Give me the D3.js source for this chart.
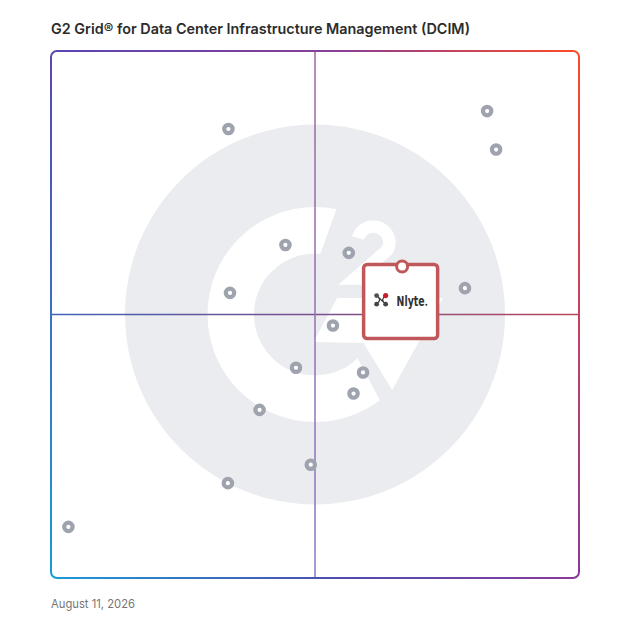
<!DOCTYPE html>
<html>
<head>
<meta charset="utf-8">
<script src="https://cdn.jsdelivr.net/npm/d3@7"></script>
<style>
  html, body { margin: 0; padding: 0; background: #ffffff; }
  svg { display: block; }
</style>
</head>
<body>
<svg id="chart" width="628" height="628"></svg>
<script>
// ---------- data ----------
const titleText = "G2 Grid\u00AE for Data Center Infrastructure Management (DCIM)";
const dateText = "August 11, 2026";
// Satisfaction (x, 0-100) and Market Presence (y, 0-100) of the unnamed products
const satisfaction   = [33.6, 82.6, 84.3, 44.4, 56.4, 33.9, 78.4, 53.4, 46.4, 59.1, 57.3, 39.5, 49.2, 33.5, 3.3];
const marketPresence = [85.2, 88.6, 81.3, 63.2, 61.7, 54.1, 55.0, 47.9, 39.9, 39.0, 35.0, 31.9, 21.5, 18.0, 9.7];
// Highlighted product
const highlightName = ["Nlyte"];
const highlightX = [66.5];
const highlightY = [59.1];

(function () {
// ---------- layout ----------
const svg = d3.select("#chart");
const pLeft = 51, pRight = 579, pTop = 51, pBottom = 578;
const x = d3.scaleLinear().domain([0, 100]).range([pLeft, pRight]);
const y = d3.scaleLinear().domain([0, 100]).range([pBottom, pTop]);
const cx = x(50), cy = y(50);

const defs = svg.append("defs");

// title
svg.append("text")
  .attr("x", pLeft).attr("y", 34)
  .attr("font-family", "Inter, 'Open Sans', sans-serif")
  .attr("font-weight", 600)
  .attr("font-size", 14.5)
  .attr("fill", "#2b2b2b")
  .attr("textLength", 419).attr("lengthAdjust", "spacingAndGlyphs")
  .text(titleText);

// date
svg.append("text")
  .attr("x", pLeft).attr("y", 608)
  .attr("font-family", "Inter, 'Open Sans', sans-serif")
  .attr("font-size", 12)
  .attr("fill", "#767676")
  .attr("textLength", 84).attr("lengthAdjust", "spacingAndGlyphs")
  .text(dateText);

// ---------- G2 watermark ----------
const logo = svg.append("g");
const R = 190;
logo.append("circle").attr("cx", cx).attr("cy", cy).attr("r", R).attr("fill", "#eaecef");

// G arc clipped by two slanted cuts
const clip = defs.append("clipPath").attr("id", "gclip");
clip.append("polygon").attr("points", [
  [cx + 32, cy - 135], [cx - 4, cy - 34.5], [cx, cy], [cx + 36, cy + 31.5],
  [cx + 81, cy + 116], [cx - 130, cy + 116], [cx - 130, cy - 135]
].map(p => p.join(",")).join(" "));
logo.append("g").attr("clip-path", "url(#gclip)")
  .append("path")
  .attr("transform", `translate(${cx},${cy})`)
  .attr("d", d3.arc().innerRadius(61).outerRadius(107.5).startAngle(0).endAngle(2 * Math.PI)())
  .attr("fill", "#ffffff");

// crossbar triangle shape
logo.append("polygon")
  .attr("points", [
    [cx - 1.5, cy + 27.5], [cx + 22.2, cy - 16.5], [cx + 128, cy - 16.5],
    [cx + 77.2, cy + 75.5], [cx + 48.5, cy + 28.5]
  ].map(p => p.join(",")).join(" "))
  .attr("fill", "#ffffff");

// superscript 2
logo.append("path")
  .attr("d", `M${cx + 43},${cy - 76.5} A16,16 0 1 1 ${cx + 72.5},${cy - 64.5} L${cx + 40},${cy - 36} L${cx + 105},${cy - 36}`)
  .attr("fill", "none")
  .attr("stroke", "#ffffff")
  .attr("stroke-width", 12.5)
  .attr("stroke-linejoin", "miter");

// ---------- quadrant lines ----------
const hGrad = defs.append("linearGradient").attr("id", "hgrad")
  .attr("gradientUnits", "userSpaceOnUse")
  .attr("x1", pLeft).attr("x2", pRight).attr("y1", 0).attr("y2", 0);
hGrad.append("stop").attr("offset", 0).attr("stop-color", "#3f63b5");
hGrad.append("stop").attr("offset", 0.5).attr("stop-color", "#7a4f8e");
hGrad.append("stop").attr("offset", 1).attr("stop-color", "#b9475a");
const vGrad = defs.append("linearGradient").attr("id", "vgrad")
  .attr("gradientUnits", "userSpaceOnUse")
  .attr("x1", 0).attr("x2", 0).attr("y1", pTop).attr("y2", pBottom);
vGrad.append("stop").attr("offset", 0).attr("stop-color", "#a1649f");
vGrad.append("stop").attr("offset", 1).attr("stop-color", "#8a79c6");

svg.append("line").attr("x1", pLeft).attr("x2", pRight).attr("y1", cy).attr("y2", cy)
  .attr("stroke", "url(#hgrad)").attr("stroke-width", 1.5);
svg.append("line").attr("x1", cx).attr("x2", cx).attr("y1", pTop).attr("y2", pBottom)
  .attr("stroke", "url(#vgrad)").attr("stroke-width", 1.5);

// ---------- frame with bilinear gradient ----------
const gTop = defs.append("linearGradient").attr("id", "gtop")
  .attr("gradientUnits", "userSpaceOnUse")
  .attr("x1", pLeft).attr("x2", pRight).attr("y1", 0).attr("y2", 0);
gTop.append("stop").attr("offset", 0).attr("stop-color", "#5a45b3");
gTop.append("stop").attr("offset", 0.55).attr("stop-color", "#8a3f95");
gTop.append("stop").attr("offset", 1).attr("stop-color", "#ff4a25");
const gBot = defs.append("linearGradient").attr("id", "gbot")
  .attr("gradientUnits", "userSpaceOnUse")
  .attr("x1", pLeft).attr("x2", pRight).attr("y1", 0).attr("y2", 0);
gBot.append("stop").attr("offset", 0).attr("stop-color", "#1a9bd8");
gBot.append("stop").attr("offset", 0.55).attr("stop-color", "#4f4cb0");
gBot.append("stop").attr("offset", 1).attr("stop-color", "#8a3b9a");
const gFade = defs.append("linearGradient").attr("id", "gfade")
  .attr("gradientUnits", "userSpaceOnUse")
  .attr("x1", 0).attr("x2", 0).attr("y1", pTop).attr("y2", pBottom);
gFade.append("stop").attr("offset", 0).attr("stop-color", "#fff").attr("stop-opacity", 1);
gFade.append("stop").attr("offset", 1).attr("stop-color", "#fff").attr("stop-opacity", 0);
const fadeMask = defs.append("mask").attr("id", "fademask")
  .attr("maskUnits", "userSpaceOnUse").attr("x", 0).attr("y", 0).attr("width", 628).attr("height", 628);
fadeMask.append("rect").attr("x", 0).attr("y", 0).attr("width", 628).attr("height", 628).attr("fill", "url(#gfade)");
const frameMask = defs.append("mask").attr("id", "framemask")
  .attr("maskUnits", "userSpaceOnUse").attr("x", 0).attr("y", 0).attr("width", 628).attr("height", 628);
frameMask.append("rect")
  .attr("x", pLeft).attr("y", pTop).attr("width", pRight - pLeft).attr("height", pBottom - pTop)
  .attr("rx", 6).attr("fill", "none").attr("stroke", "#fff").attr("stroke-width", 2);
const frame = svg.append("g").attr("mask", "url(#framemask)");
frame.append("rect").attr("x", 40).attr("y", 40).attr("width", 550).attr("height", 550).attr("fill", "url(#gbot)");
frame.append("rect").attr("x", 40).attr("y", 40).attr("width", 550).attr("height", 550).attr("fill", "url(#gtop)")
  .attr("mask", "url(#fademask)");

// ---------- product points ----------
const pts = satisfaction.map((s, i) => ({ s, m: marketPresence[i] }));
svg.append("g").selectAll("circle").data(pts).join("circle")
  .attr("cx", d => x(d.s)).attr("cy", d => y(d.m))
  .attr("r", 4.2)
  .attr("fill", "#ffffff")
  .attr("stroke", "#9ea3ae")
  .attr("stroke-width", 4.2);

// ---------- highlighted product ----------
const hl = highlightName.map((n, i) => ({ n, s: highlightX[i], m: highlightY[i] }));
const hg = svg.append("g").selectAll("g").data(hl).join("g")
  .attr("transform", d => `translate(${x(d.s)},${y(d.m)})`);
const boxColor = "#c0575a";
hg.append("rect")
  .attr("x", -38.5).attr("y", -2).attr("width", 74).attr("height", 74)
  .attr("rx", 3.5)
  .attr("fill", "#ffffff").attr("stroke", boxColor).attr("stroke-width", 3.5);
hg.append("circle").attr("cx", 0).attr("cy", 0).attr("r", 5.5)
  .attr("fill", "#ffffff").attr("stroke", boxColor).attr("stroke-width", 3);
// Nlyte mark
const icon = hg.append("g").attr("transform", "translate(-25.5,29)");
icon.append("path").attr("d", "M0,0 Q6,4.3 0,8.6 M9,0 Q3,4.3 9,8.6 M0,0 L9,8.6")
  .attr("fill", "none").attr("stroke", "#3a3a3a").attr("stroke-width", 1.3);
icon.append("circle").attr("cx", 0).attr("cy", 0).attr("r", 2.4).attr("fill", "#505050");
icon.append("circle").attr("cx", 0).attr("cy", 8.6).attr("r", 2.4).attr("fill", "#454545");
icon.append("circle").attr("cx", 9).attr("cy", 8.6).attr("r", 2.4).attr("fill", "#454545");
icon.append("circle").attr("cx", 9).attr("cy", 0).attr("r", 2.6).attr("fill", "#c8202a");
hg.append("text")
  .attr("x", -5.5).attr("y", 39.2)
  .attr("font-family", "'DejaVu Sans Condensed', 'Liberation Sans Narrow', sans-serif")
  .attr("font-stretch", "condensed")
  .attr("font-weight", 600)
  .attr("font-size", 14)
  .attr("fill", "#333333")
  .attr("textLength", 28).attr("lengthAdjust", "spacingAndGlyphs")
  .text(d => d.n);
hg.append("circle").attr("cx", 24.2).attr("cy", 38.3).attr("r", 1).attr("fill", "#333333");
})();
</script>
</body>
</html>
